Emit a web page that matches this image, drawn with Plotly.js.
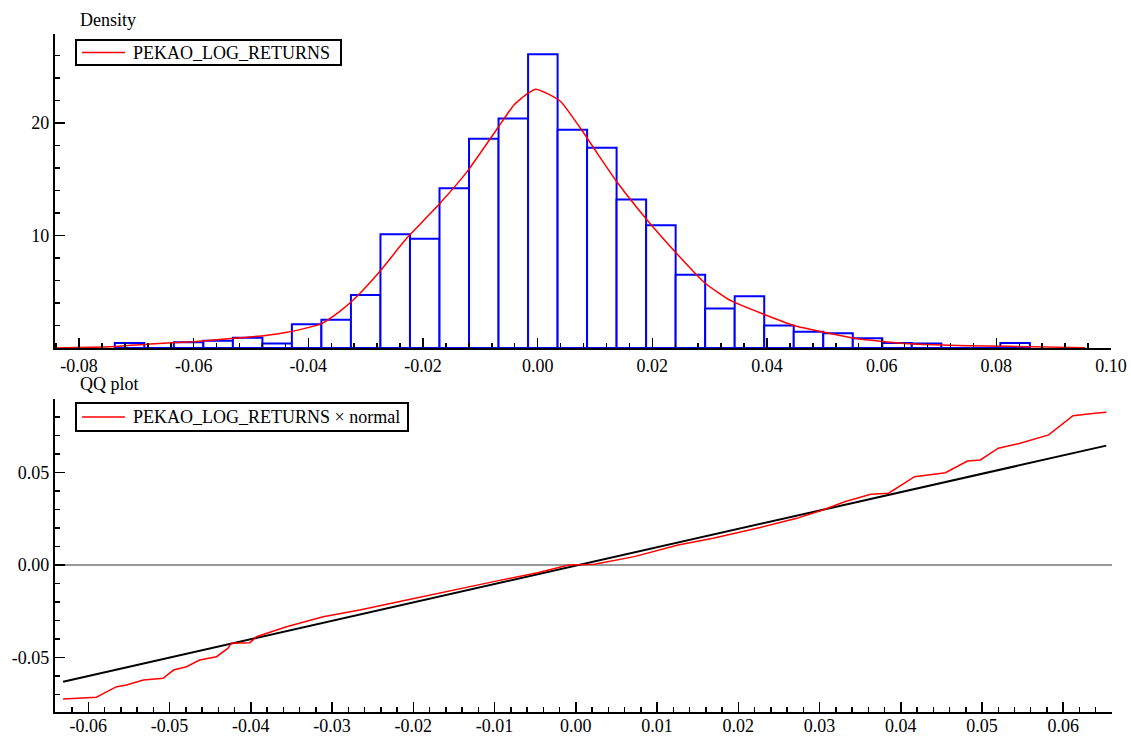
<!DOCTYPE html>
<html>
<head>
<meta charset="utf-8">
<script src="https://cdn.plot.ly/plotly-3.0.1.min.js"></script>
<style>html,body{margin:0;padding:0;background:#fff;}#chart{width:1131px;height:738px;}</style>
</head>
<body>
<div id="chart"></div>
<script>
// ---- Histogram (density) of PEKAO log returns ----
const binCenters = [-0.07119,-0.06604,-0.06089,-0.05574,-0.05059,-0.04544,-0.04030,-0.03515,-0.03000,
  -0.02485,-0.01970,-0.01455,-0.00940,-0.00425,0.00090,0.00605,0.01119,0.01634,0.02149,0.02664,
  0.03179,0.03694,0.04209,0.04724,0.05239,0.05754,0.06268,0.06783,0.07298,0.07813,0.08328];
const binHeights = [0.45,0,0.5,0.65,0.9,0.4,2.1,2.5,4.7,
  10.1,9.7,14.2,18.6,20.4,26.1,19.4,17.8,13.2,10.9,6.5,
  3.5,4.6,2.0,1.44,1.3,0.86,0.45,0.4,0,0,0.45];

// ---- Kernel density estimate ----
const kdeX = [-0.0842,-0.0746,-0.0676,-0.0600,-0.0530,-0.0478,-0.0437,-0.0379,-0.0344,-0.0315,-0.0277,
  -0.0239,-0.0225,-0.01724,-0.01228,-0.00704,-0.00414,-0.0018,-0.00035,0.0017,0.0040,0.0075,0.0104,
  0.0139,0.0192,0.0244,0.0291,0.0337,0.0401,0.0448,0.0500,0.0552,0.0605,0.0657,0.0750,0.0820,0.0955];
const kdeY = [0,0.1,0.35,0.56,0.86,1.09,1.39,2.12,3.3,4.6,6.7,
  9.1,9.94,12.74,15.69,19.5,21.6,22.6,23.0,22.6,21.9,19.5,17.3,
  14.7,11.3,8.3,5.8,4.2,2.86,1.97,1.39,0.86,0.56,0.35,0.2,0.15,0.03];

// ---- QQ plot: empirical quantiles vs normal ----
const qqX = [-0.0631,-0.0590,-0.0577,-0.0565,-0.0553,-0.0532,-0.0508,-0.0495,-0.0479,-0.0463,-0.0442,
  -0.0428,-0.0424,-0.0401,-0.0393,-0.0356,-0.0311,-0.0266,-0.0208,-0.0155,-0.0101,-0.0047,-0.0009,
  0.0023,0.0072,0.0126,0.0169,0.0223,0.0272,0.0304,0.0331,0.0363,0.0385,0.0417,0.0455,0.0482,0.0498,
  0.0520,0.0547,0.0582,0.0612,0.0639,0.0653];
const qqY = [-0.0724,-0.0715,-0.0685,-0.0658,-0.0649,-0.0622,-0.0613,-0.0568,-0.0550,-0.0514,-0.0496,
  -0.0450,-0.0423,-0.0420,-0.0388,-0.0334,-0.0280,-0.0243,-0.0189,-0.0138,-0.0090,-0.0042,0.0000,
  0.0004,0.0045,0.0108,0.0144,0.0198,0.0252,0.0297,0.0342,0.0382,0.0388,0.0477,0.0499,0.0562,0.0568,
  0.0631,0.0658,0.0703,0.0807,0.0820,0.0825];
const refX = [-0.0631, 0.0653];
const refY = [-0.0631, 0.0645];

// ---- Tick labels and legend texts ----
const topXTicks = [-0.08,-0.06,-0.04,-0.02,0.00,0.02,0.04,0.06,0.08,0.10];
const topXLabels = ['-0.08','-0.06','-0.04','-0.02','0.00','0.02','0.04','0.06','0.08','0.10'];
const topYTicks = [10,20];
const topYLabels = ['10','20'];
const botXTicks = [-0.06,-0.05,-0.04,-0.03,-0.02,-0.01,0.00,0.01,0.02,0.03,0.04,0.05,0.06];
const botXLabels = ['-0.06','-0.05','-0.04','-0.03','-0.02','-0.01','0.00','0.01','0.02','0.03','0.04','0.05','0.06'];
const botYTicks = [-0.05,0.00,0.05];
const botYLabels = ['-0.05','0.00','0.05'];
const topLegendText = 'PEKAO_LOG_RETURNS';
const botLegendText = 'PEKAO_LOG_RETURNS × normal';

const FONT = 'Liberation Serif, Times New Roman, serif';
const W = 1131, H = 738;
const px = v => v / W;          // pixel -> paper x
const py = v => 1 - v / H;      // pixel -> paper y

const traces = [
  {type:'bar', x:binCenters, y:binHeights, width:0.00515, xaxis:'x', yaxis:'y',
   marker:{color:'#ffffff', line:{color:'#0000ff', width:2}}, showlegend:false},
  {type:'scatter', mode:'lines', x:kdeX, y:kdeY, xaxis:'x', yaxis:'y', name:topLegendText,
   line:{color:'#ff0000', width:1.5, shape:'spline', smoothing:0.5}, showlegend:false},
  {type:'scatter', mode:'lines', x:refX, y:refY, xaxis:'x2', yaxis:'y2', showlegend:false,
   line:{color:'#000000', width:2}},
  {type:'scatter', mode:'lines', x:qqX, y:qqY, xaxis:'x2', yaxis:'y2', name:botLegendText,
   line:{color:'#ff0000', width:1.5}, showlegend:false}
];

const axisBase = {
  showline:true, linecolor:'#000', linewidth:2, mirror:false,
  ticks:'inside', ticklen:10, tickwidth:1.5, tickcolor:'#000',
  showgrid:false, zeroline:false, tickmode:'array',
  tickfont:{family:FONT, size:18, color:'#000'}
};

function legendBox(x0, y0, x1, y1, text) {
  return {
    shapes:[
      {type:'rect', xref:'paper', yref:'paper', x0:px(x0), x1:px(x1), y0:py(y0), y1:py(y1),
       line:{color:'#000', width:2}, fillcolor:'#fff', layer:'above'},
      {type:'line', xref:'paper', yref:'paper', x0:px(x0+6), x1:px(x0+49), y0:py((y0+y1)/2), y1:py((y0+y1)/2),
       line:{color:'#ff0000', width:1.5}, layer:'above'}
    ],
    annotation:{text:text, xref:'paper', yref:'paper', x:px(x0+55), y:py((y0+y1)/2), xanchor:'left',
      yanchor:'middle', showarrow:false, font:{family:FONT, size:18, color:'#000'}}
  };
}
const lg1 = legendBox(76, 40, 341, 65, topLegendText);
const lg2 = legendBox(76, 403, 408, 431, botLegendText);

const layout = {
  width:W, height:H,
  margin:{l:0, r:0, t:0, b:0},
  paper_bgcolor:'#fff', plot_bgcolor:'#fff',
  font:{family:FONT, size:18, color:'#000'},
  showlegend:false,
  xaxis: Object.assign({}, axisBase, {domain:[0.0486,0.9823], anchor:'y', range:[-0.0842,0.10],
    tickvals:topXTicks, ticktext:topXLabels,
    minor:{ticks:'inside', ticklen:5, tickwidth:1.5, tickcolor:'#000', dtick:0.004, tick0:0, showgrid:false}}),
  yaxis: Object.assign({}, axisBase, {domain:[0.5285,0.9539], anchor:'x', range:[0,27.9],
    tickvals:topYTicks, ticktext:topYLabels,
    minor:{ticks:'inside', ticklen:5, tickwidth:1.5, tickcolor:'#000', dtick:2, tick0:0, showgrid:false}}),
  xaxis2: Object.assign({}, axisBase, {domain:[0.0486,0.9832], anchor:'y2', range:[-0.0641,0.066],
    tickvals:botXTicks, ticktext:botXLabels, ticklabelstandoff:-4,
    minor:{ticks:'inside', ticklen:5, tickwidth:1.5, tickcolor:'#000', dtick:0.002, tick0:0, showgrid:false}}),
  yaxis2: Object.assign({}, axisBase, {domain:[0.0352,0.4593], anchor:'x2', range:[-0.0795,0.0897],
    tickvals:botYTicks, ticktext:botYLabels,
    minor:{ticks:'inside', ticklen:5, tickwidth:1.5, tickcolor:'#000', dtick:0.01, tick0:0, showgrid:false}}),
  shapes:[
    {type:'line', xref:'x2 domain', yref:'y2', x0:0, x1:1, y0:0, y1:0, layer:'below',
     line:{color:'#999999', width:2}}
  ].concat(lg1.shapes, lg2.shapes),
  annotations:[
    {text:'Density', xref:'paper', yref:'paper', x:px(78), y:py(20), xanchor:'left', yanchor:'middle',
     showarrow:false, font:{family:FONT, size:18, color:'#000'}},
    {text:'QQ plot', xref:'paper', yref:'paper', x:px(78), y:py(384), xanchor:'left', yanchor:'middle',
     showarrow:false, font:{family:FONT, size:18, color:'#000'}},
    lg1.annotation, lg2.annotation
  ]
};

Plotly.newPlot('chart', traces, layout, {displayModeBar:false, staticPlot:true});
</script>
</body>
</html>
